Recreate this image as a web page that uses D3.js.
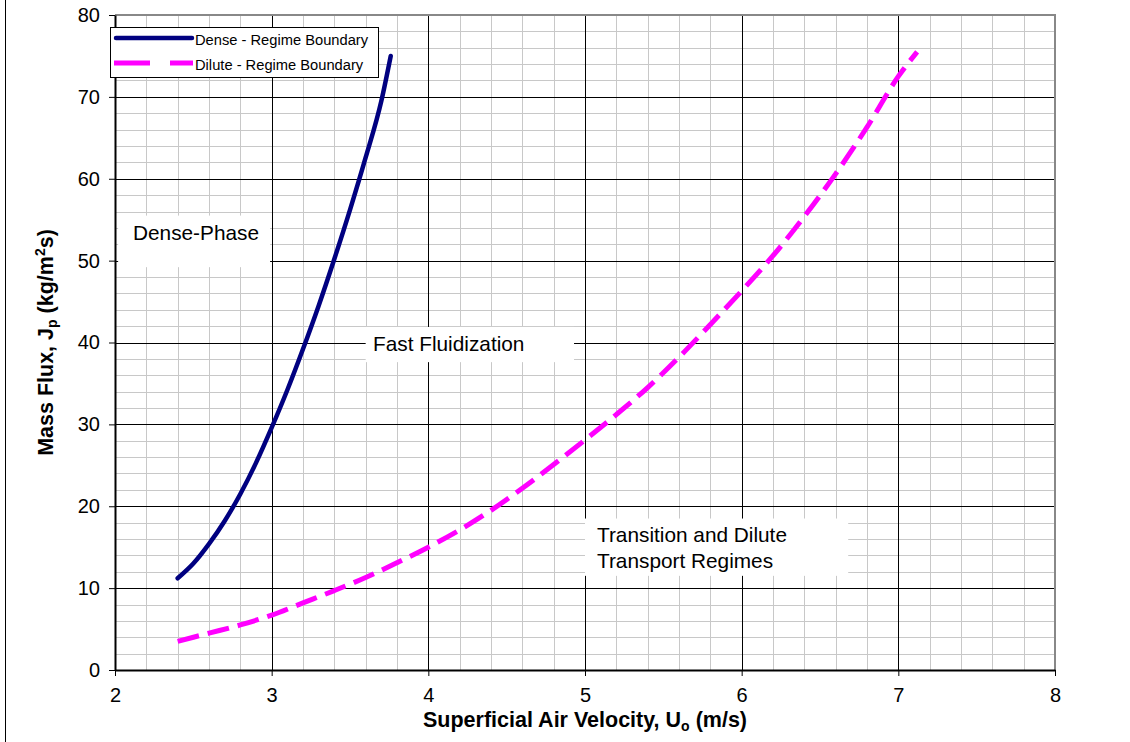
<!DOCTYPE html>
<html>
<head>
<meta charset="utf-8">
<script src="https://cdn.jsdelivr.net/npm/d3@7"></script>
<style>
  body { margin: 0; background: #fff; }
  text { font-family: "Liberation Sans", Arial, sans-serif; }
</style>
</head>
<body>
<div id="container"></div>
<script>
/* CONSTANTS AND GLOBALS */
const width = 1130;
const height = 742;
const plot = { left: 115, right: 1055, top: 15, bottom: 670 };

/* DATA */
const denseU = [2.4, 2.5, 2.6, 2.7, 2.8, 2.9, 3.0, 3.1, 3.2, 3.3, 3.4, 3.5, 3.6, 3.7, 3.76];
const denseJ = [11.2, 13.0, 15.4, 18.2, 21.5, 25.3, 29.6, 34.2, 39.2, 44.5, 50.2, 56.2, 62.6, 69.5, 75.0];

const diluteU = [2.4, 2.6, 2.8, 3.0, 3.2, 3.4, 3.6, 3.8, 4.0, 4.2, 4.4, 4.6, 4.8, 5.0, 5.2, 5.4, 5.6, 5.8, 6.0, 6.2, 6.4, 6.6, 6.8, 7.0, 7.12];
const diluteJ = [3.5, 4.5, 5.5, 6.7, 8.2, 9.7, 11.3, 13.1, 15.0, 17.1, 19.5, 22.2, 25.1, 28.1, 31.2, 34.5, 38.2, 42.2, 46.3, 50.6, 55.4, 60.6, 66.3, 72.5, 75.5];

const xTicks = [2, 3, 4, 5, 6, 7, 8];
const yTicks = [0, 10, 20, 30, 40, 50, 60, 70, 80];
const seriesNames = ["Dense - Regime Boundary", "Dilute - Regime Boundary"];

/* SCALES */
const xScale = d3.scaleLinear().domain([2, 8]).range([plot.left, plot.right]);
const yScale = d3.scaleLinear().domain([0, 80]).range([plot.bottom, plot.top]);

const svg = d3.select("#container")
  .append("svg")
  .attr("width", width)
  .attr("height", height);

// outer chart border (left edge visible)
svg.append("line")
  .attr("x1", 5.5).attr("x2", 5.5)
  .attr("y1", 0).attr("y2", height)
  .attr("stroke", "#000").attr("stroke-width", 1);

// minor grid
const minorX = d3.range(2, 8.001, 0.2).filter(v => Math.abs(v - Math.round(v)) > 0.01);
const minorY = d3.range(0, 80.001, 2).filter(v => v % 10 !== 0);

svg.append("g").selectAll("line")
  .data(minorX).join("line")
  .attr("x1", d => Math.round(xScale(d)) + 0.5).attr("x2", d => Math.round(xScale(d)) + 0.5)
  .attr("y1", plot.top).attr("y2", plot.bottom)
  .attr("stroke", "#c8c8c8").attr("stroke-width", 1);

svg.append("g").selectAll("line")
  .data(minorY).join("line")
  .attr("y1", d => Math.round(yScale(d)) + 0.5).attr("y2", d => Math.round(yScale(d)) + 0.5)
  .attr("x1", plot.left).attr("x2", plot.right)
  .attr("stroke", "#c8c8c8").attr("stroke-width", 1);

// major grid
svg.append("g").selectAll("line")
  .data(xTicks.slice(1, -1)).join("line")
  .attr("x1", d => Math.round(xScale(d)) + 0.5).attr("x2", d => Math.round(xScale(d)) + 0.5)
  .attr("y1", plot.top).attr("y2", plot.bottom)
  .attr("stroke", "#000").attr("stroke-width", 1);

svg.append("g").selectAll("line")
  .data(yTicks.slice(1, -1)).join("line")
  .attr("y1", d => Math.round(yScale(d)) + 0.5).attr("y2", d => Math.round(yScale(d)) + 0.5)
  .attr("x1", plot.left).attr("x2", plot.right)
  .attr("stroke", "#000").attr("stroke-width", 1);

// plot border top / right (gray)
svg.append("path")
  .attr("d", `M${plot.left},${plot.top} H${plot.right} V${plot.bottom}`)
  .attr("fill", "none").attr("stroke", "#888").attr("stroke-width", 2);

// text boxes (white backgrounds)
const boxes = [
  { x0: 2.02, x1: 2.99, y0: 49.2, y1: 55.5 },
  { x0: 3.6, x1: 4.93, y0: 37.6, y1: 41.9 },
  { x0: 5.0, x1: 6.68, y0: 11.5, y1: 18.5 }
];
svg.append("g").selectAll("rect")
  .data(boxes).join("rect")
  .attr("x", d => xScale(d.x0))
  .attr("y", d => yScale(d.y1))
  .attr("width", d => xScale(d.x1) - xScale(d.x0))
  .attr("height", d => yScale(d.y0) - yScale(d.y1))
  .attr("fill", "#fff");

const ann = svg.append("g").attr("font-size", "20.8px").attr("fill", "#000");
ann.append("text").attr("x", 133).attr("y", 240).text("Dense-Phase");
ann.append("text").attr("x", 373).attr("y", 351).text("Fast Fluidization");
ann.append("text").attr("x", 597).attr("y", 542).text("Transition and Dilute");
ann.append("text").attr("x", 597).attr("y", 568).text("Transport Regimes");

// axes
const xAxis = svg.append("g")
  .attr("transform", `translate(0,${plot.bottom})`)
  .call(d3.axisBottom(xScale).tickValues(xTicks).tickFormat(d3.format("d")).tickSize(6).tickSizeOuter(0));
xAxis.select(".domain").attr("stroke-width", 2);
xAxis.selectAll("text").attr("font-size", "20px").attr("dy", "1.15em")
  .style("font-family", "'Liberation Sans', Arial, sans-serif");

const yAxis = svg.append("g")
  .attr("transform", `translate(${plot.left},0)`)
  .call(d3.axisLeft(yScale).tickValues(yTicks).tickFormat(d3.format("d")).tickSize(6).tickSizeOuter(0));
yAxis.select(".domain").attr("stroke-width", 2);
yAxis.selectAll("text").attr("font-size", "20px").attr("x", -15)
  .style("font-family", "'Liberation Sans', Arial, sans-serif");

// axis titles
const xt = svg.append("text")
  .attr("x", (plot.left + plot.right) / 2).attr("y", 727)
  .attr("text-anchor", "middle").attr("font-size", "21.5px").attr("font-weight", "bold");
xt.append("tspan").text("Superficial Air Velocity, U");
xt.append("tspan").attr("font-size", "14px").attr("dy", 4).text("o");
xt.append("tspan").attr("dy", -4).text(" (m/s)");

const yt = svg.append("text")
  .attr("transform", `translate(53,${(plot.top + plot.bottom) / 2}) rotate(-90)`)
  .attr("text-anchor", "middle").attr("font-size", "21.5px").attr("font-weight", "bold");
yt.append("tspan").text("Mass Flux, J");
yt.append("tspan").attr("font-size", "14px").attr("dy", 4).text("p");
yt.append("tspan").attr("dy", -4).text(" (kg/m");
yt.append("tspan").attr("font-size", "14px").attr("dy", -8).text("2");
yt.append("tspan").attr("dy", 8).text("s)");

// curves
const line = d3.line().x(d => xScale(d[0])).y(d => yScale(d[1])).curve(d3.curveMonotoneX);

svg.append("path")
  .datum(denseU.map((u, i) => [u, denseJ[i]]))
  .attr("d", line)
  .attr("fill", "none").attr("stroke", "#000080").attr("stroke-width", 4.5)
  .attr("stroke-linecap", "round");

svg.append("path")
  .datum(diluteU.map((u, i) => [u, diluteJ[i]]))
  .attr("d", line)
  .attr("fill", "none").attr("stroke", "#ff00ff").attr("stroke-width", 5)
  .attr("stroke-dasharray", "22,9");

// legend
const legend = svg.append("g");
legend.append("rect")
  .attr("x", 110.5).attr("y", 27.5).attr("width", 268).attr("height", 50)
  .attr("fill", "#fff").attr("stroke", "#000").attr("stroke-width", 1);

legend.append("line")
  .attr("x1", 116).attr("x2", 192).attr("y1", 38).attr("y2", 38)
  .attr("stroke", "#000080").attr("stroke-width", 4.5).attr("stroke-linecap", "round");
legend.append("line")
  .attr("x1", 114).attr("x2", 193).attr("y1", 63).attr("y2", 63)
  .attr("stroke", "#ff00ff").attr("stroke-width", 5).attr("stroke-dasharray", "36,20");

legend.selectAll("text.lg")
  .data(seriesNames).join("text")
  .attr("class", "lg")
  .attr("x", 195).attr("y", (d, i) => 45 + i * 25)
  .attr("font-size", "14.7px")
  .text(d => d);
</script>
</body>
</html>
